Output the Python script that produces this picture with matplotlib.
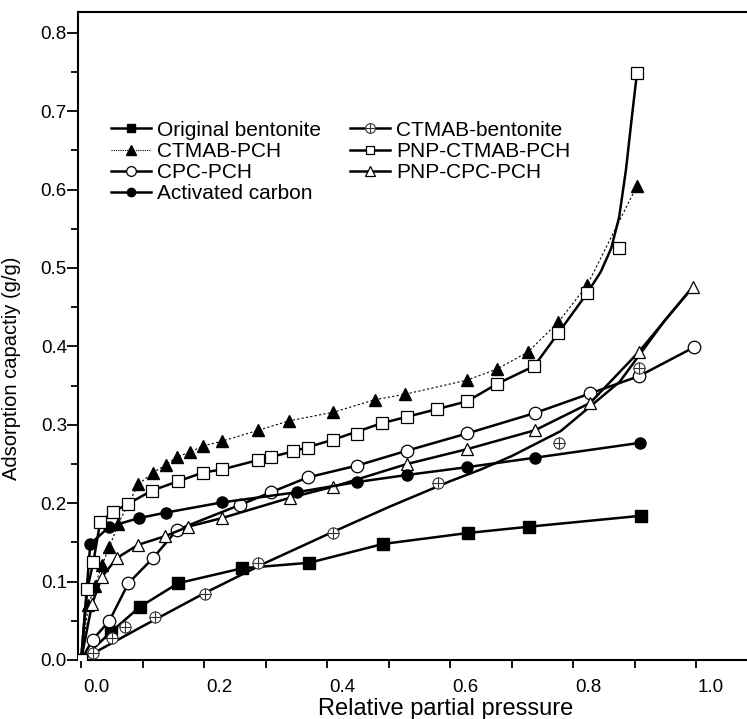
import numpy as np
import matplotlib.pyplot as plt
from matplotlib.lines import Line2D
from matplotlib.transforms import ScaledTranslation

plt.rcParams['font.family'] = ['Liberation Sans', 'DejaVu Sans']

# Original bentonite
ob_x = [0, 0.049, 0.096, 0.158, 0.262, 0.371, 0.491, 0.629, 0.728, 0.911]
ob_y = [0, 0.036, 0.068, 0.098, 0.117, 0.124, 0.148, 0.162, 0.170, 0.184]

# CTMAB-bentonite (markers + fitted curve)
cb_x = [0.02, 0.05, 0.072, 0.12, 0.202, 0.288, 0.41, 0.58, 0.777, 0.907]
cb_y = [0.009, 0.028, 0.042, 0.055, 0.084, 0.124, 0.162, 0.226, 0.277, 0.372]
cb_fit_x = [0, 0.1, 0.2, 0.3, 0.4, 0.5, 0.6, 0.65, 0.7, 0.78, 0.876, 0.95, 0.995]
cb_fit_y = [0, 0.043, 0.085, 0.124, 0.160, 0.195, 0.228, 0.243, 0.260, 0.292, 0.355, 0.434, 0.476]

# CTMAB-PCH
cp_x = [0, 0.012, 0.022, 0.034, 0.046, 0.060, 0.093, 0.117, 0.138, 0.156, 0.177, 0.198,
        0.229, 0.288, 0.338, 0.410, 0.478, 0.527, 0.628, 0.676, 0.727, 0.776, 0.823, 0.904]
cp_y = [0, 0.07, 0.094, 0.121, 0.144, 0.173, 0.224, 0.239, 0.249, 0.259, 0.265, 0.273,
        0.279, 0.293, 0.305, 0.316, 0.332, 0.339, 0.357, 0.371, 0.393, 0.431, 0.478, 0.605]

# PNP-CTMAB-PCH (markers + fitted curve)
pc_x = [0, 0.01, 0.02, 0.031, 0.052, 0.076, 0.115, 0.158, 0.198, 0.229, 0.288, 0.309, 0.345,
        0.369, 0.410, 0.449, 0.489, 0.530, 0.579, 0.628, 0.676, 0.737, 0.776, 0.823, 0.875, 0.904]
pc_y = [0, 0.09, 0.125, 0.176, 0.189, 0.199, 0.216, 0.228, 0.239, 0.243, 0.255, 0.259, 0.266,
        0.271, 0.281, 0.288, 0.302, 0.310, 0.320, 0.330, 0.352, 0.375, 0.417, 0.468, 0.526, 0.749]
pc_fit_x = [0, 0.01, 0.02, 0.031, 0.052, 0.076, 0.115, 0.158, 0.198, 0.229, 0.288, 0.345,
            0.410, 0.489, 0.579, 0.628, 0.676, 0.737, 0.776, 0.823, 0.845, 0.862, 0.875,
            0.886, 0.896, 0.904]
pc_fit_y = [0, 0.09, 0.125, 0.176, 0.189, 0.199, 0.216, 0.228, 0.239, 0.243, 0.255, 0.266,
            0.281, 0.302, 0.320, 0.330, 0.352, 0.375, 0.417, 0.468, 0.495, 0.525, 0.565,
            0.625, 0.695, 0.749]

# CPC-PCH
cc_x = [0, 0.019, 0.046, 0.077, 0.117, 0.156, 0.259, 0.309, 0.369, 0.449, 0.530, 0.628,
        0.738, 0.828, 0.907, 0.997]
cc_y = [0, 0.026, 0.050, 0.098, 0.130, 0.166, 0.198, 0.214, 0.233, 0.248, 0.267, 0.289,
        0.315, 0.340, 0.362, 0.399]

# PNP-CPC-PCH
pp_x = [0, 0.018, 0.034, 0.058, 0.093, 0.137, 0.174, 0.229, 0.340, 0.410, 0.530, 0.628,
        0.738, 0.828, 0.907, 0.995]
pp_y = [0, 0.072, 0.106, 0.130, 0.147, 0.158, 0.170, 0.181, 0.207, 0.221, 0.250, 0.269,
        0.293, 0.328, 0.393, 0.476]

# Activated carbon
ac_x = [0, 0.015, 0.046, 0.094, 0.138, 0.229, 0.351, 0.449, 0.530, 0.628, 0.738, 0.909]
ac_y = [0, 0.148, 0.170, 0.181, 0.188, 0.201, 0.214, 0.227, 0.236, 0.246, 0.258, 0.277]

lw = 1.8
ms = 8

fig = plt.figure(figsize=(7.47, 7.19), dpi=100)
ax = fig.add_axes([78 / 747, 59 / 719, 674 / 747, 648 / 719])

# thin dotted series
ax.plot(cp_x, cp_y, color='k', lw=0.8, ls=(0, (2, 2)), marker='^', ms=ms + 1,
        mfc='k', mec='k', zorder=3)

# fitted curves
ax.plot(cb_fit_x, cb_fit_y, color='k', lw=lw, zorder=2)
ax.plot(pc_fit_x, pc_fit_y, color='k', lw=lw, zorder=2)

# lines through points
ax.plot(ob_x, ob_y, color='k', lw=lw, marker='s', ms=ms, mfc='k', mec='k', zorder=3)
ax.plot(cc_x, cc_y, color='k', lw=lw, marker='o', ms=ms + 1, mfc='white', mec='k',
        mew=0.9, zorder=3)
ax.plot(pp_x, pp_y, color='k', lw=lw, marker='^', ms=ms + 1, mfc='white', mec='k',
        mew=0.9, zorder=3)
ax.plot(ac_x, ac_y, color='k', lw=lw, marker='o', ms=ms, mfc='k', mec='k', zorder=3)

# markers only
ax.plot(cb_x, cb_y, ls='none', marker='o', ms=8, mfc='white', mec='#333333', mew=0.8, zorder=4)
ax.plot(cb_x, cb_y, ls='none', marker='+', ms=8, mec='#333333', mew=0.8, zorder=5)
ax.plot(pc_x, pc_y, ls='none', marker='s', ms=ms, mfc='white', mec='k', mew=0.9, zorder=4)

handles = [
    Line2D([], [], color='k', lw=lw, marker='s', ms=6, mfc='k'),
    Line2D([], [], color='k', lw=0.8, ls=(0, (1, 1)), marker='^', ms=7, mfc='k'),
    Line2D([], [], color='k', lw=lw, marker='o', ms=7, mfc='white', mew=0.9),
    Line2D([], [], color='k', lw=lw, marker='o', ms=6, mfc='k'),
    (Line2D([], [], color='k', lw=lw, marker='o', ms=7, mfc='white', mec='#333333', mew=0.8),
     Line2D([], [], ls='none', marker='+', ms=7, mec='#333333', mew=0.8)),
    Line2D([], [], color='k', lw=lw, marker='s', ms=6, mfc='white', mew=0.9),
    Line2D([], [], color='k', lw=lw, marker='^', ms=7, mfc='white', mew=0.9),
]
labels = ['Original bentonite', 'CTMAB-PCH', 'CPC-PCH', 'Activated carbon',
          'CTMAB-bentonite', 'PNP-CTMAB-PCH', 'PNP-CPC-PCH']
ax.legend(handles, labels, ncol=2, frameon=False, fontsize=15, numpoints=1,
          handlelength=1.9, handletextpad=0.3, columnspacing=1.4, labelspacing=0.1,
          loc='upper left', bbox_to_anchor=(0.037, 0.845), borderaxespad=0)

ax.set_xlim(-0.005, 1.091)
ax.set_ylim(0, 0.8265)
ax.set_xticks([0, 0.2, 0.4, 0.6, 0.8, 1.0])
ax.set_xticklabels(['0.0', '0.2', '0.4', '0.6', '0.8', '1.0'])
ax.set_xticks([0.1, 0.3, 0.5, 0.7, 0.9], minor=True)
ax.set_yticks(np.arange(0, 0.81, 0.1))
ax.set_yticklabels(['0.0', '0.1', '0.2', '0.3', '0.4', '0.5', '0.6', '0.7', '0.8'])
ax.set_yticks(np.arange(0.05, 0.8, 0.1), minor=True)
ax.tick_params(which='both', direction='out', width=1.3, labelsize=13.5)
ax.tick_params(axis='y', which='major', length=8, pad=0)
ax.tick_params(axis='y', which='minor', length=5)
ax.tick_params(axis='x', which='both', length=6, pad=8)

# the original figure has its x labels shifted slightly right of the ticks
for lab in ax.get_xticklabels():
    lab.set_transform(lab.get_transform() + ScaledTranslation(0.15, 0, fig.dpi_scale_trans))

for s in ['left', 'bottom', 'top']:
    ax.spines[s].set_linewidth(1.5)
ax.spines['right'].set_visible(False)

ax.set_xlabel('Relative partial pressure', fontsize=17)
ax.xaxis.set_label_coords(0.546, -0.058)
ax.set_ylabel('Adsorption capactiy (g/g)', fontsize=14.5)
ax.yaxis.set_label_coords(-0.084, 0.45)

fig.savefig('out.png', dpi=100)
